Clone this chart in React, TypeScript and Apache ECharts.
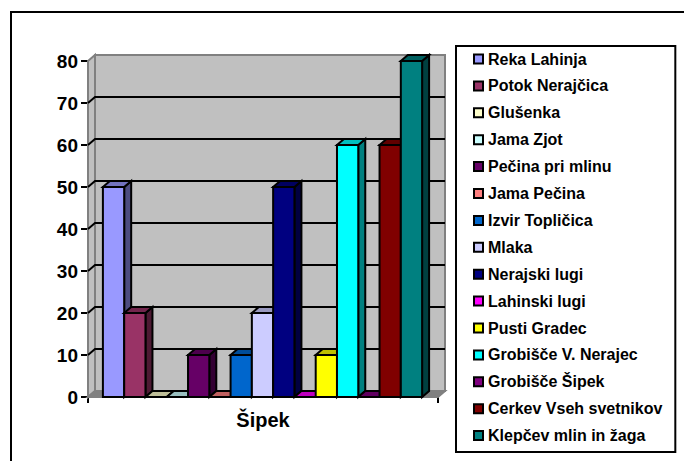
import React, { useEffect, useRef } from "react";
import * as echarts from "echarts";

const categories = ["Šipek"];
const seriesNames = ["Reka Lahinja","Potok Nerajčica","Glušenka","Jama Zjot","Pečina pri mlinu","Jama Pečina","Izvir Topličica","Mlaka","Nerajski lugi","Lahinski lugi","Pusti Gradec","Grobišče V. Nerajec","Grobišče Šipek","Cerkev Vseh svetnikov","Klepčev mlin in žaga"];
const seriesValues = [50,20,0,0,10,0,10,20,50,0,10,60,0,60,80];
const seriesColors = ["#9999FF","#993366","#FFFFCC","#CCFFFF","#660066","#FF8080","#0066CC","#CCCCFF","#000080","#FF00FF","#FFFF00","#00FFFF","#800080","#800000","#008080"];
const yTicks = [0,10,20,30,40,50,60,70,80];
const DX = 7, DY = 6;

function shade(hex: string, f: number) {
  const n = parseInt(hex.slice(1), 16);
  const c = (s: number) => Math.round(((n >> s) & 255) * f);
  return `rgb(${c(16)},${c(8)},${c(0)})`;
}

export default function App() {
  const ref = useRef<HTMLDivElement>(null);
  useEffect(() => {
    const chart = echarts.init(ref.current!, undefined, { renderer: "svg" });
    const poly = (points: number[][], fill: string, stroke: string, w = 2) => ({
      type: "polygon", shape: { points }, style: { fill, stroke, lineWidth: w },
    });
    const wallSeries: any = {
      type: "custom", silent: true, z: 1, legendHoverLink: false,
      data: [[0, 0]], clip: false,
      renderItem: (_p: any, api: any) => {
        const c0 = api.coord([0, 0]);
        const top = api.coord([0, 80]);
        const w = api.size([1, 0])[0];
        const l = c0[0] - w / 2, r = c0[0] + w / 2, b = c0[1], t = top[1];
        const gridLines = yTicks.map((v) => {
          const y = api.coord([0, v])[1];
          return { type: "polyline", shape: { points: [[l, y], [l + DX, y - DY], [r + DX, y - DY]] }, style: { fill: "none", stroke: v === 80 || v === 0 ? "transparent" : "#000", lineWidth: 2 } };
        });
        return { type: "group", children: [
          poly([[l + DX, t - DY], [r + DX, t - DY], [r + DX, b - DY], [l + DX, b - DY]], "#C0C0C0", "#808080"),
          poly([[l, t], [l + DX, t - DY], [l + DX, b - DY], [l, b]], "#C0C0C0", "#808080"),
          poly([[l, b], [l + DX, b - DY], [r + DX, b - DY], [r, b]], "#808080", "#808080"),
          ...gridLines,
        ] };
      },
    };
    const barSeries: any[] = seriesNames.map((name, i) => ({
      type: "custom", name, z: 2 + i, clip: false,
      itemStyle: { color: seriesColors[i] },
      data: [[0, seriesValues[i]]],
      renderItem: (_p: any, api: any) => {
        const base = api.coord([0, 0]);
        const top = api.coord([0, api.value(1)]);
        const band = api.size([1, 0])[0];
        const pitch = band * 0.0608;
        const x0 = base[0] - pitch * 7.5 + pitch * i - 0.5;
        const x1 = x0 + pitch;
        const b = base[1], t = top[1];
        const c = seriesColors[i];
        return { type: "group", children: [
          poly([[x1, t], [x1 + DX, t - DY], [x1 + DX, b - DY], [x1, b]], shade(c, 0.5), "#000"),
          poly([[x0, t], [x0 + DX, t - DY], [x1 + DX, t - DY], [x1, t]], shade(c, 0.75), "#000"),
          poly([[x0, t], [x1, t], [x1, b], [x0, b]], c, "#000"),
        ] };
      },
    }));
    chart.setOption({
      animation: false,
      backgroundColor: "#fff",
      textStyle: { fontFamily: "Liberation Sans, Arial, sans-serif" },
      grid: { left: 88, right: 246, top: 61, bottom: 64 },
      xAxis: {
        type: "category", data: categories,
        axisLine: { lineStyle: { color: "#000", width: 2 } },
        axisTick: { show: true, length: 6, lineStyle: { color: "#000", width: 2 } },
        axisLabel: { fontSize: 20, fontWeight: "bold", color: "#000", margin: 13 },
      },
      yAxis: {
        type: "value", min: 0, max: 80, interval: 10,
        axisLine: { show: true, lineStyle: { color: "#000", width: 2 } },
        axisTick: { show: true, length: 7, lineStyle: { color: "#000", width: 2 } },
        axisLabel: { fontSize: 19, fontWeight: "bold", color: "#000", margin: 10 },
        splitLine: { show: false },
      },
      legend: {
        orient: "vertical", left: 456, top: 46, height: 425,
        align: "left", padding: [5, 13, 8.4, 17], itemGap: 10.9,
        itemWidth: 9, itemHeight: 9, borderColor: "#000", borderWidth: 2,
        backgroundColor: "#fff",
        itemStyle: { borderColor: "#000", borderWidth: 2 },
        textStyle: { fontSize: 16, fontWeight: "bold", color: "#000" },
        data: seriesNames.map((name) => ({ name, icon: "rect" })),
        selectedMode: false,
      },
      graphic: [{ type: "polyline", silent: true, z: -1, shape: { points: [[11, 470], [11, 12], [700, 12]] }, style: { fill: "none", stroke: "#000", lineWidth: 2 } }],
      series: [wallSeries, ...barSeries],
    });
    return () => chart.dispose();
  }, []);
  return <div ref={ref} style={{ position: "absolute", left: 0, top: 0, width: 684, height: 461 }} />;
}
